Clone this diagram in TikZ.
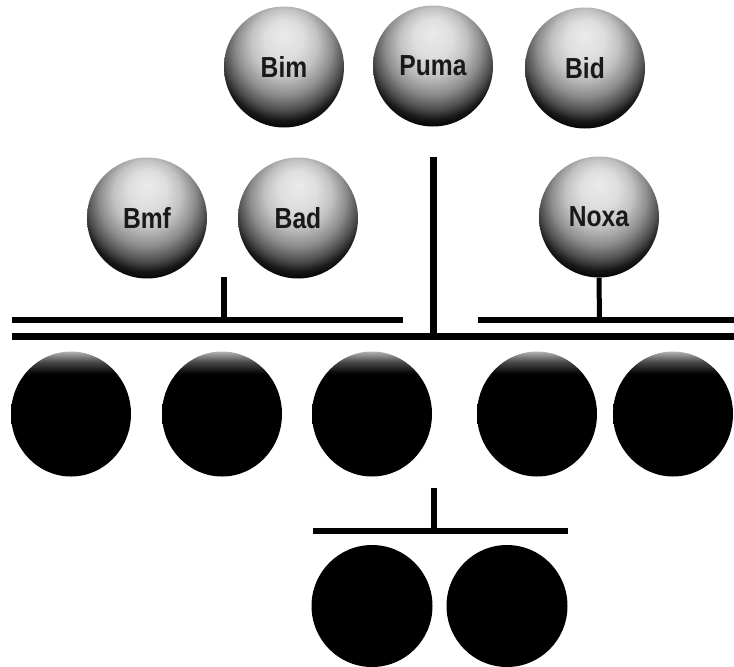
\documentclass[tikz,border=0pt]{standalone}
\usepackage{fontspec}
\setmainfont{Liberation Sans}
\usetikzlibrary{shapes.geometric}
\pgfdeclareradialshading{lightsphere}{\pgfpoint{0bp}{14bp}}{%
  color(0bp)=(black!8); color(8bp)=(black!13); color(14bp)=(black!24);
  color(20bp)=(black!45); color(25bp)=(black!70); color(28bp)=(black!90); color(31bp)=(black); color(50bp)=(black)}
\pgfdeclareverticalshading{darktop}{100bp}{%
  color(0bp)=(black); color(66bp)=(black); color(71bp)=(black!70);
  color(75bp)=(black!30); color(100bp)=(black!30)}
\tikzset{
  lightball/.style={ellipse, minimum width=120pt, minimum height=121pt, inner sep=0pt,
    font=\fontsize{29}{29}\selectfont\bfseries, text=black!90,
    path picture={\shade[shading=lightsphere] (path picture bounding box.south west) rectangle (path picture bounding box.north east);}},
  darkball/.style={ellipse, minimum width=120pt, minimum height=125pt, inner sep=0pt,
    path picture={\shade[shading=darktop] (path picture bounding box.south west) rectangle (path picture bounding box.north east);}},
  blackball/.style={ellipse, minimum width=121pt, minimum height=122pt, inner sep=0pt, fill=black},
  bar/.style={line width=6.5pt, line cap=butt},
  stem/.style={line width=6pt, line cap=butt}
}
\newcommand{\lbl}[1]{\scalebox{0.85}[1]{#1}}
\begin{document}
\begin{tikzpicture}[x=1pt, y=-1pt]
\useasboundingbox (0,0) rectangle (734,667);
% top row
\node[lightball] (bim) at (284,67) {\lbl{Bim}};
\node[lightball] (puma) at (433,66) {\lbl{Puma}};
\node[lightball] (bid) at (585,68) {\lbl{Bid}};
% middle row
\node[lightball] (bmf) at (147,218) {\lbl{Bmf}};
\node[lightball] (bad) at (298,218) {\lbl{Bad}};
\node[lightball] (noxa) at (599,217) {\lbl{Noxa}};
% dark row
\node[darkball] (d1) at (71,414) {};
\node[darkball] (d2) at (222,414) {};
\node[darkball] (d3) at (372,414) {};
\node[darkball] (d4) at (537,414) {};
\node[darkball] (d5) at (673,414) {};
% bottom
\node[blackball] (b1) at (372,606) {};
\node[blackball] (b2) at (507,606) {};
% coordinates for bars
\coordinate (l1a) at (12,320);
\coordinate (l1b) at (403,320);
\coordinate (l1c) at (478,320);
\coordinate (l1d) at (734,320);
\coordinate (l2a) at (12,336.5);
\coordinate (l2b) at (734,336.5);
\coordinate (vtop) at (433.5,157);
\coordinate (vbot) at (433.5,340);
\coordinate (stop) at (223.5,277);
\coordinate (sbot) at (223.5,320);
\coordinate (nbot) at (599.5,320);
\coordinate (btop) at (433.5,488);
\coordinate (bbot) at (433.5,531);
\coordinate (bba) at (313,531);
\coordinate (bbb) at (568,531);
% bars
\draw[bar] (l1a) -- (l1b);
\draw[bar] (l1c) -- (l1d);
\draw[bar] (l2a) -- (l2b);
\draw[bar] (bba) -- (bbb);
% stems
\draw[line width=7pt] (vtop) -- (vbot);
\draw[stem] (stop) -- (sbot);
\draw[line width=5pt] (noxa.south) -- (nbot);
\draw[stem] (btop) -- (bbot);
\end{tikzpicture}
\end{document}
